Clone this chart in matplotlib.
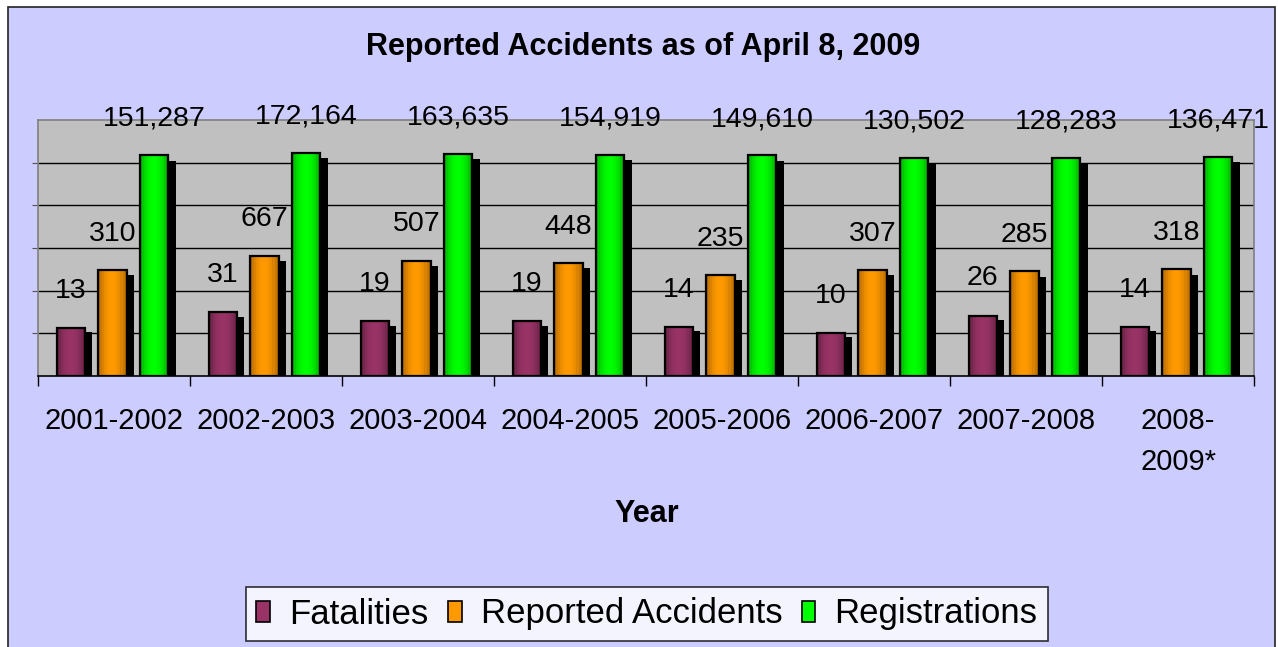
import numpy as np
import matplotlib
matplotlib.use('Agg')
import matplotlib.pyplot as plt
from matplotlib.patches import Rectangle, Patch
from matplotlib.colors import to_rgb

plt.rcParams['font.family'] = ['Liberation Sans', 'DejaVu Sans']

# data
years = ['2001-2002', '2002-2003', '2003-2004', '2004-2005', '2005-2006',
         '2006-2007', '2007-2008', '2008-\n2009*']
fatalities = [13, 31, 19, 19, 14, 10, 26, 14]
accidents = [310, 667, 507, 448, 235, 307, 285, 318]
registrations = [151287, 172164, 163635, 154919, 149610, 130502, 128283, 136471]

series_names = ['Fatalities', 'Reported Accidents', 'Registrations']
series_colors = ['#993366', '#FF9900', '#00FF00']
label_offsets = [27, 26, 26]  # points above bar top

W, H = 1278, 647
fig = plt.figure(figsize=(W / 100, H / 100), dpi=100, facecolor='white')

# lavender chart area with a dark border
fig.patches.append(Rectangle((8 / W, -0.05), (1275 - 8) / W, 1 - 7 / H + 0.05,
                             transform=fig.transFigure, facecolor='#CCCCFF',
                             edgecolor='#222222', linewidth=1.2, zorder=-10))

ax = fig.add_axes([38 / W, 1 - 376 / H, (1254 - 38) / W, (376 - 120) / H])
ax.set_facecolor('#C0C0C0')
ax.set_yscale('log')
ax.set_ylim(1, 1e6)
ax.set_xlim(-0.5, len(years) - 0.5)

x = np.arange(len(years))
bw = 0.185
nslice = 14
shadow_dx = 0.05

for i, (vals, col) in enumerate(zip([fatalities, accidents, registrations], series_colors)):
    xc = x + (i - 1) * 0.275 - 0.01
    vals = np.array(vals, dtype=float)
    # drop shadow
    ax.bar(xc + shadow_dx, vals / 1.35, width=bw, bottom=1, color='black', zorder=2)
    # horizontal gradient: darker at the edges
    base = np.array(to_rgb(col))
    sw = bw / nslice
    for k in range(nslice):
        t = (k + 0.5) / nslice
        shade = 0.55 + 0.45 * np.sin(np.pi * t) ** 0.6
        ax.bar(xc - bw / 2 + sw * (k + 0.5), vals - 1, width=sw * 1.02, bottom=1,
               color=base * shade, linewidth=0, zorder=3)
    ax.bar(xc, vals - 1, width=bw, bottom=1, fill=False, edgecolor='black',
           linewidth=1.6, zorder=4)
    for xx, v in zip(xc, vals):
        ax.annotate(f'{int(v):,}', (xx, v), xytext=(0, label_offsets[i]),
                    textcoords='offset points', ha='center', va='center',
                    fontsize=20.5, color='black', zorder=5, annotation_clip=False)

# gridlines at each decade
ax.set_yticks([10, 100, 1000, 10000, 100000])
ax.yaxis.set_minor_locator(matplotlib.ticker.NullLocator())
ax.set_yticklabels([])
ax.tick_params(axis='y', length=4, direction='out', color='#555555')
ax.grid(True, axis='y', color='black', linewidth=1, zorder=1)
ax.set_axisbelow(True)

# category boundaries as ticks, names in between
ax.set_xticks(np.arange(len(years) + 1) - 0.5)
ax.set_xticklabels([])
ax.tick_params(axis='x', which='major', length=7, direction='out', color='black', width=1)
ax.set_xticks(x, minor=True)
ax.set_xticklabels(years, minor=True, fontsize=21, linespacing=1.62)
ax.tick_params(axis='x', which='minor', length=0, pad=22)

for s in ['top', 'left', 'right']:
    ax.spines[s].set_color('#808080')
    ax.spines[s].set_linewidth(1.2)
ax.spines['bottom'].set_color('black')
ax.spines['bottom'].set_linewidth(1.2)

fig.text(647 / W, 1 - 514 / H, 'Year', ha='center', va='center',
         fontsize=22, fontweight='bold')
fig.text(643 / W, 1 - 47 / H, 'Reported Accidents as of April 8, 2009', ha='center',
         va='center', fontsize=22, fontweight='bold')

handles = [Patch(facecolor=c, edgecolor='black', linewidth=1.2) for c in series_colors]
leg = fig.legend(handles, series_names, loc='center', ncol=3,
                 bbox_to_anchor=(647 / W, 1 - 614 / H), fontsize=25,
                 frameon=True, fancybox=False, edgecolor='black',
                 handlelength=0.4, handleheight=0.55, handletextpad=0.55,
                 columnspacing=0.55, borderpad=0.3, borderaxespad=0)
leg.get_frame().set_linewidth(1.2)
leg.get_frame().set_facecolor('white')

fig.savefig('out.png', dpi=100, facecolor=fig.get_facecolor())
